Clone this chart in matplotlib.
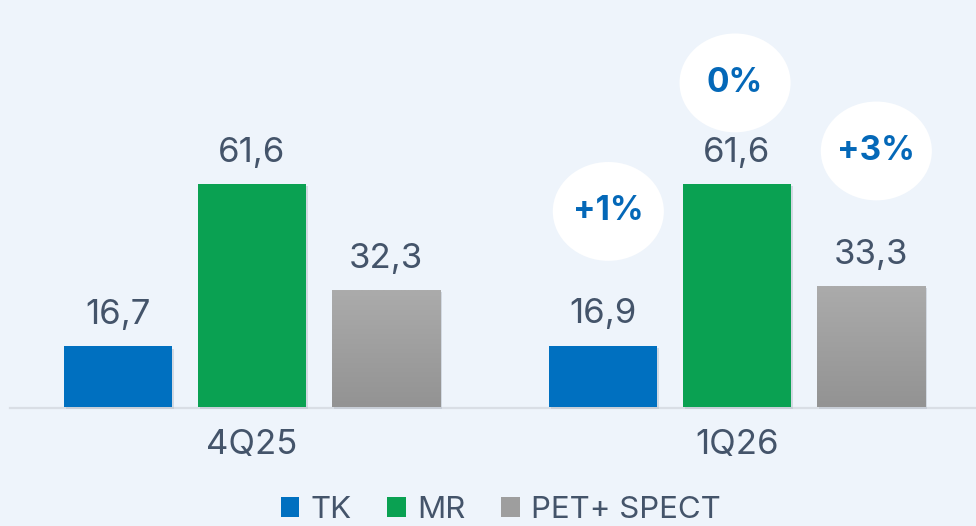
import numpy as np
import matplotlib
matplotlib.use("Agg")
import matplotlib.pyplot as plt
from matplotlib.patches import Ellipse, Patch
from matplotlib import patheffects as pe

# data
periods = ["4Q25", "1Q26"]
series = ["TK", "MR", "PET+ SPECT"]
values = {
    "TK": [16.7, 16.9],
    "MR": [61.6, 61.6],
    "PET+ SPECT": [32.3, 33.3],
}
changes = ["+1%", "0%", "+3%"]           # 1Q26 vs 4Q25
bubble_y = [54.0, 89.5, 70.7]            # bubble centres (data units)
bubble_dx = [0.011, -0.004, 0.011]

colors = {"TK": "#0070C0", "MR": "#0AA152", "PET+ SPECT": "#9E9E9E"}
bg = "#EEF4FB"
txt = "#44546A"
blue = "#0468B8"

plt.rcParams["font.family"] = ["Inter", "DejaVu Sans"]

fig = plt.figure(figsize=(9.76, 5.26), dpi=100, facecolor=bg)
ax = fig.add_axes([0, 0, 1, 1])
ax.set_facecolor(bg)
ax.set_xlim(-0.5196, 1.4928)
ax.set_ylim(-32.9, 112.4)
ax.axis("off")

x = np.arange(len(periods))
width = 0.2227
offset = 0.2763

ax.plot([-0.499, 1.4928], [-0.4, -0.4], color="#D9DEE5", lw=1.6, zorder=1)

shadow = [pe.SimplePatchShadow(offset=(1.5, -1.5), shadow_rgbFace="#B8C0CA", alpha=0.5), pe.Normal()]
gray_cmap = matplotlib.colors.LinearSegmentedColormap.from_list("g", ["#939393", "#ABABAB"])
for i, s in enumerate(series):
    pos = x + (i - 1) * offset
    bars = ax.bar(pos, values[s], width, color=colors[s], zorder=2)
    for b, v in zip(bars, values[s]):
        b.set_path_effects(shadow)
        if s == "PET+ SPECT":
            grad = np.linspace(0, 1, 100).reshape(-1, 1)
            im = ax.imshow(grad, cmap=gray_cmap,
                           extent=[b.get_x(), b.get_x() + b.get_width(), 0, v],
                           origin="lower", aspect="auto", zorder=3)
            im.set_clip_path(b)
        ax.annotate(f"{v:.1f}".replace(".", ","), (b.get_x() + b.get_width() / 2, v),
                    xytext=(0, 11), textcoords="offset points", ha="center", va="bottom",
                    fontsize=25, color=txt)

for i, lab in enumerate(periods):
    ax.text(x[i], -10.5, lab, ha="center", va="center", fontsize=25, color=txt)

# change bubbles for 1Q26
for i, (c, yb, dx) in enumerate(zip(changes, bubble_y, bubble_dx)):
    cx = x[1] + (i - 1) * offset + dx
    ax.add_patch(Ellipse((cx, yb), 0.229, 27.3, facecolor="white", edgecolor="none", zorder=4))
    ax.text(cx, yb, c, ha="center", va="center", fontsize=24, fontweight="bold", color=blue, zorder=5)

handles = [Patch(facecolor=colors[s], edgecolor="none") for s in series]
fig.legend(handles, series, loc="center", bbox_to_anchor=(0.513, 0.03), ncol=3, frameon=False,
           fontsize=22.5, labelcolor=txt, handlelength=0.6, handleheight=0.6,
           handletextpad=0.35, columnspacing=1.15, borderpad=0)

fig.savefig("out.png", dpi=100, facecolor=bg)
